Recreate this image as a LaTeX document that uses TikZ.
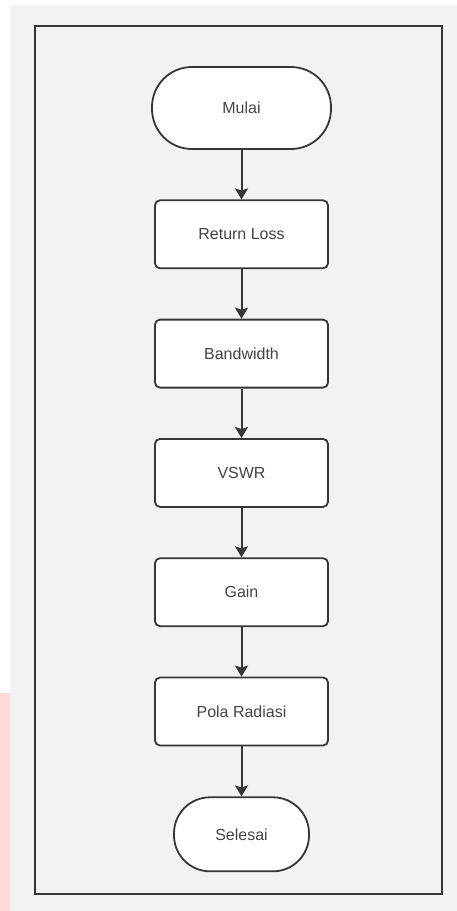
\documentclass[tikz,border=0pt]{standalone}
\usepackage{fontspec}
\setmainfont{Liberation Sans}
\usetikzlibrary{positioning}
\usetikzlibrary{arrows.meta}
\definecolor{garis}{HTML}{363636}
\definecolor{latar}{HTML}{F2F2F2}
\definecolor{teks}{HTML}{444444}
\definecolor{merah}{HTML}{FCDADA}
\tikzset{proses node/.style={rectangle,rounded corners=5pt,draw=garis,line width=1.8pt,fill=white,
    minimum width=173pt,minimum height=68pt,inner sep=0pt,text=teks,font=\fontsize{16}{19}\selectfont},}
\tikzset{terminal node/.style={rectangle,draw=garis,line width=1.8pt,fill=white,
    inner sep=0pt,text=teks,font=\fontsize{16}{19}\selectfont},}
\tikzstyle{panah} = [draw=garis,line width=2pt,-{Stealth[length=11pt,width=13pt,inset=2pt]}]

\begin{document}
\begin{tikzpicture}[x=1pt,y=-1pt]
    \useasboundingbox (0,0) rectangle (457,911);
    \fill[white] (0,0) rectangle (457,911);
    \fill[latar] (10,5) rectangle (457,911);
    \fill[merah] (0,693) rectangle (10,911);
    \draw[garis, line width=1.8pt] (35,26) rectangle (442,894);

    \node[terminal node, minimum width=179pt, minimum height=82pt, rounded corners=40pt]
        (mulai) at (241.5,108) {Mulai};
    \node[proses node] (rl) [below = 49.5pt of mulai] {Return Loss};
    \node[proses node] (bw) [below = 49.5pt of rl] {Bandwidth};
    \node[proses node] (vswr) [below = 49.5pt of bw] {VSWR};
    \node[proses node] (gain) [below = 49.5pt of vswr] {Gain};
    \node[proses node] (pola) [below = 49.5pt of gain] {Pola Radiasi};
    \node[terminal node, minimum width=135pt, minimum height=74pt, rounded corners=36pt]
        (selesai) [below = 50pt of pola] {Selesai};

    \draw[panah] (mulai) -- (rl);
    \draw[panah] (rl) -- (bw);
    \draw[panah] (bw) -- (vswr);
    \draw[panah] (vswr) -- (gain);
    \draw[panah] (gain) -- (pola);
    \draw[panah] (pola) -- (selesai);
\end{tikzpicture}
\end{document}
